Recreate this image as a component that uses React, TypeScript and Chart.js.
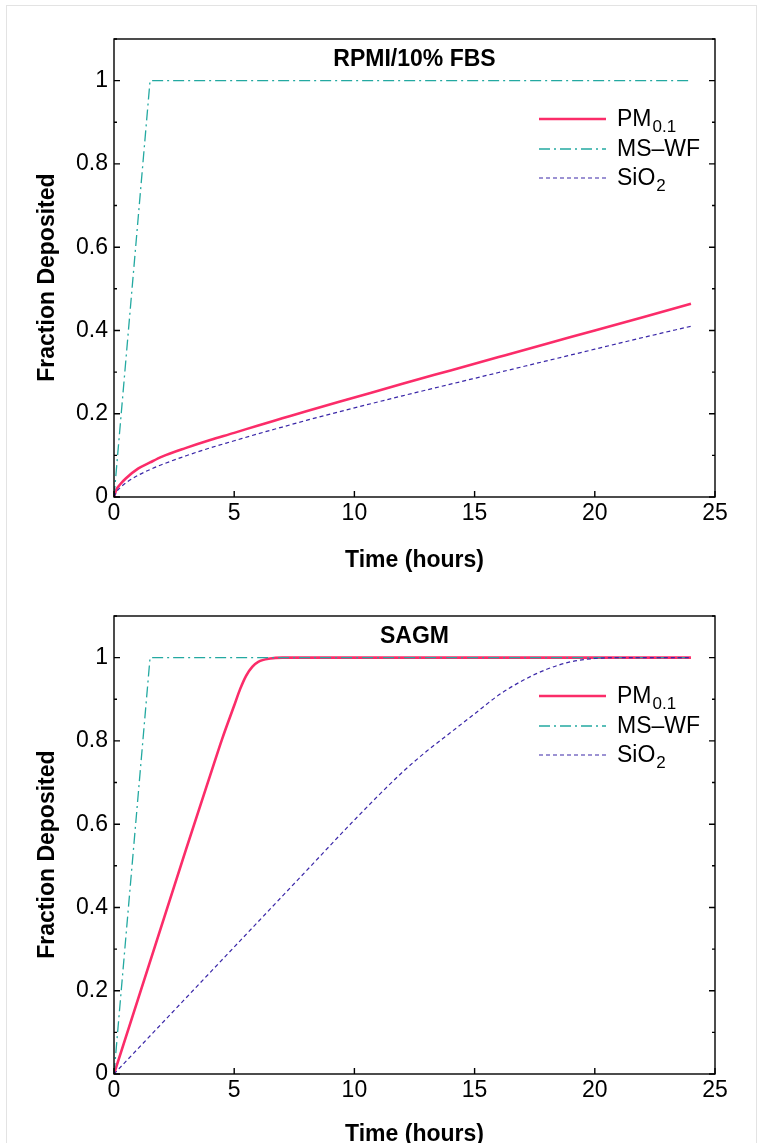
import { useEffect, useRef } from "react";
import { Chart, registerables } from "chart.js";

Chart.register(...registerables);

const FONT = "'Liberation Sans', Arial, Helvetica, sans-serif";

// ---- axis ticks ----
const timeTicks = [0, 5, 10, 15, 20, 25];
const fractionMinorTicks = [0, 0.1, 0.2, 0.3, 0.4, 0.5, 0.6, 0.7, 0.8, 0.9, 1, 1.1];

// ---- legend labels ----
const seriesNames = ["PM", "MS\u2013WF", "SiO"];
const seriesSubs = ["0.1", "", "2"];
const seriesColors = ["#fb2c69", "#23a9a1", "#3a27a8"];

// ---- panel titles ----
const panelTitles = ["RPMI/10% FBS", "SAGM"];

// ---- MS-WF (both media) ----
const msTime = [0, 1.5, 24];
const msValue = [0, 1, 1];

// ---- RPMI/10% FBS ----
const rpmiPmTime = [0, 0.1, 0.25, 0.5, 1, 1.5, 2, 3, 4, 5, 6, 7, 8, 10, 12, 14, 16, 18, 20, 22, 24];
const rpmiPmValue = [0, 0.018, 0.03, 0.045, 0.068, 0.083, 0.097, 0.118, 0.137, 0.154, 0.172, 0.189, 0.206, 0.239, 0.272, 0.304, 0.336, 0.368, 0.4, 0.432, 0.464];
const rpmiSiTime = [0, 0.1, 0.25, 0.5, 1, 1.5, 2, 3, 4, 5, 6, 7, 8, 10, 12, 14, 16, 18, 20, 22, 24];
const rpmiSiValue = [0, 0.012, 0.022, 0.034, 0.052, 0.066, 0.078, 0.099, 0.118, 0.135, 0.152, 0.168, 0.184, 0.214, 0.243, 0.271, 0.299, 0.327, 0.355, 0.383, 0.41];

// ---- SAGM ----
const sagmPmTime = [0, 1, 2, 3, 4, 4.5, 5, 5.25, 5.5, 5.75, 6, 6.5, 7, 24];
const sagmPmValue = [0, 0.18, 0.36, 0.54, 0.717, 0.805, 0.885, 0.925, 0.957, 0.978, 0.99, 0.998, 1, 1];
const sagmSiTime = [0, 2, 4, 6, 8, 10, 12, 13, 14, 15, 16, 17, 18, 19, 20, 21, 24];
const sagmSiValue = [0, 0.122, 0.244, 0.366, 0.488, 0.61, 0.725, 0.775, 0.82, 0.865, 0.91, 0.945, 0.972, 0.99, 0.998, 1, 1];

function pts(t: number[], v: number[]) {
  return t.map((x, i) => ({ x, y: v[i] }));
}

type Panel = {
  title: string;
  pm: { x: number; y: number }[];
  ms: { x: number; y: number }[];
  si: { x: number; y: number }[];
  xAxisHeight: number;
  xTitlePadBottom: number;
};

const decorPlugin = {
  id: "decor",
  afterDatasetsDraw(chart: any, _args: any, opts: any) {
    const { ctx, chartArea } = chart;
    const { left, right, top, bottom } = chartArea;
    const xs = chart.scales.x;
    const ys = chart.scales.y;
    ctx.save();
    // frame
    ctx.strokeStyle = "#000";
    ctx.lineWidth = 1.4;
    ctx.setLineDash([]);
    ctx.strokeRect(left, top, right - left, bottom - top);
    // inward ticks
    ctx.beginPath();
    fractionMinorTicks.forEach((v, i) => {
      const py = ys.getPixelForValue(v);
      const len = i % 2 === 0 ? 6 : 3;
      ctx.moveTo(left, py);
      ctx.lineTo(left + len, py);
      ctx.moveTo(right, py);
      ctx.lineTo(right - len, py);
    });
    timeTicks.forEach((v) => {
      const px = xs.getPixelForValue(v);
      ctx.moveTo(px, bottom);
      ctx.lineTo(px, bottom - 6);
    });
    ctx.stroke();
    // inner title
    ctx.fillStyle = "#000";
    ctx.font = `bold 23px ${FONT}`;
    ctx.textAlign = "center";
    ctx.textBaseline = "alphabetic";
    ctx.fillText(opts.title, (left + right) / 2, top + 27);
    // legend
    const rows = [80, 110, 139];
    chart.data.datasets.forEach((ds: any, i: number) => {
      const y = top + rows[i];
      ctx.beginPath();
      ctx.strokeStyle = ds.borderColor;
      ctx.lineWidth = ds.borderWidth;
      ctx.setLineDash(ds.borderDash || []);
      ctx.moveTo(right - 176, y);
      ctx.lineTo(right - 109, y);
      ctx.stroke();
      ctx.setLineDash([]);
      ctx.fillStyle = "#000";
      ctx.textAlign = "left";
      ctx.font = `23px ${FONT}`;
      const tx = right - 98;
      ctx.fillText(ds.label, tx, y + 7);
      const w = ctx.measureText(ds.label).width;
      if (ds.subLabel) {
        ctx.font = `17px ${FONT}`;
        ctx.fillText(ds.subLabel, tx + w + 1, y + 13);
      }
    });
    ctx.restore();
  },
};

function makeChart(canvas: HTMLCanvasElement, p: Panel) {
  return new Chart(canvas, {
    type: "line",
    data: {
      datasets: [
        {
          label: seriesNames[0],
          subLabel: seriesSubs[0],
          data: p.pm,
          borderColor: seriesColors[0],
          borderWidth: 2.6,
          pointRadius: 0,
          cubicInterpolationMode: "monotone",
          order: 3,
        } as any,
        {
          label: seriesNames[1],
          subLabel: seriesSubs[1],
          data: p.ms,
          borderColor: seriesColors[1],
          borderWidth: 1.3,
          borderDash: [11, 4, 2, 4],
          pointRadius: 0,
          tension: 0,
          order: 2,
        } as any,
        {
          label: seriesNames[2],
          subLabel: seriesSubs[2],
          data: p.si,
          borderColor: seriesColors[2],
          borderWidth: 1.2,
          borderDash: [4, 3],
          pointRadius: 0,
          cubicInterpolationMode: "monotone",
          order: 1,
        } as any,
      ],
    },
    options: {
      responsive: false,
      animation: false,
      devicePixelRatio: 1,
      layout: { padding: { left: 0, right: 46, top: 39, bottom: 0 } },
      plugins: {
        legend: { display: false },
        tooltip: { enabled: false },
        decor: { title: p.title },
      } as any,
      scales: {
        x: {
          type: "linear",
          min: 0,
          max: 25,
          grid: { display: false, drawTicks: false },
          border: { display: false },
          ticks: {
            stepSize: 5,
            padding: 3,
            color: "#000",
            font: { family: FONT, size: 23 },
            maxRotation: 0,
          },
          title: {
            display: true,
            text: "Time (hours)",
            color: "#000",
            font: { family: FONT, size: 23, weight: "bold" },
            padding: { top: 0, bottom: p.xTitlePadBottom },
          },
          afterFit: (s: any) => {
            s.height = p.xAxisHeight;
          },
        },
        y: {
          type: "linear",
          min: 0,
          max: 1.1,
          grid: { display: false, drawTicks: false },
          border: { display: false },
          ticks: {
            stepSize: 0.2,
            includeBounds: false,
            padding: 6,
            color: "#000",
            font: { family: FONT, size: 23 },
            callback: (v: any) => String(+Number(v).toFixed(2)),
          },
          title: {
            display: true,
            text: "Fraction Deposited\u00a0\u00a0\u00a0",
            color: "#000",
            font: { family: FONT, size: 23, weight: "bold" },
            padding: { top: 34, bottom: 0 },
          },
          afterFit: (s: any) => {
            s.width = 114;
          },
        },
      } as any,
    },
    plugins: [decorPlugin],
  } as any);
}

const topPanel: Panel = {
  title: panelTitles[0],
  pm: pts(rpmiPmTime, rpmiPmValue),
  ms: pts(msTime, msValue),
  si: pts(rpmiSiTime, rpmiSiValue),
  xAxisHeight: 83,
  xTitlePadBottom: 6,
};

const bottomPanel: Panel = {
  title: panelTitles[1],
  pm: pts(sagmPmTime, sagmPmValue),
  ms: pts(msTime, msValue),
  si: pts(sagmSiTime, sagmSiValue),
  xAxisHeight: 103,
  xTitlePadBottom: 29,
};

export default function App() {
  const topRef = useRef<HTMLCanvasElement>(null);
  const botRef = useRef<HTMLCanvasElement>(null);
  useEffect(() => {
    const c1 = makeChart(topRef.current!, topPanel);
    const c2 = makeChart(botRef.current!, bottomPanel);
    return () => {
      c1.destroy();
      c2.destroy();
    };
  }, []);
  return (
    <div
      style={{
        position: "fixed",
        left: 0,
        top: 0,
        width: 761,
        height: 1143,
        overflow: "hidden",
        background: "#fff",
      }}
    >
      <div
        style={{
          position: "absolute",
          left: 6,
          top: 5,
          width: 751,
          height: 1200,
          border: "1px solid #e3e3e3",
          boxSizing: "border-box",
        }}
      />
      <canvas ref={topRef} width={761} height={580} style={{ position: "absolute", left: 0, top: 0 }} />
      <canvas ref={botRef} width={761} height={600} style={{ position: "absolute", left: 0, top: 577 }} />
    </div>
  );
}
